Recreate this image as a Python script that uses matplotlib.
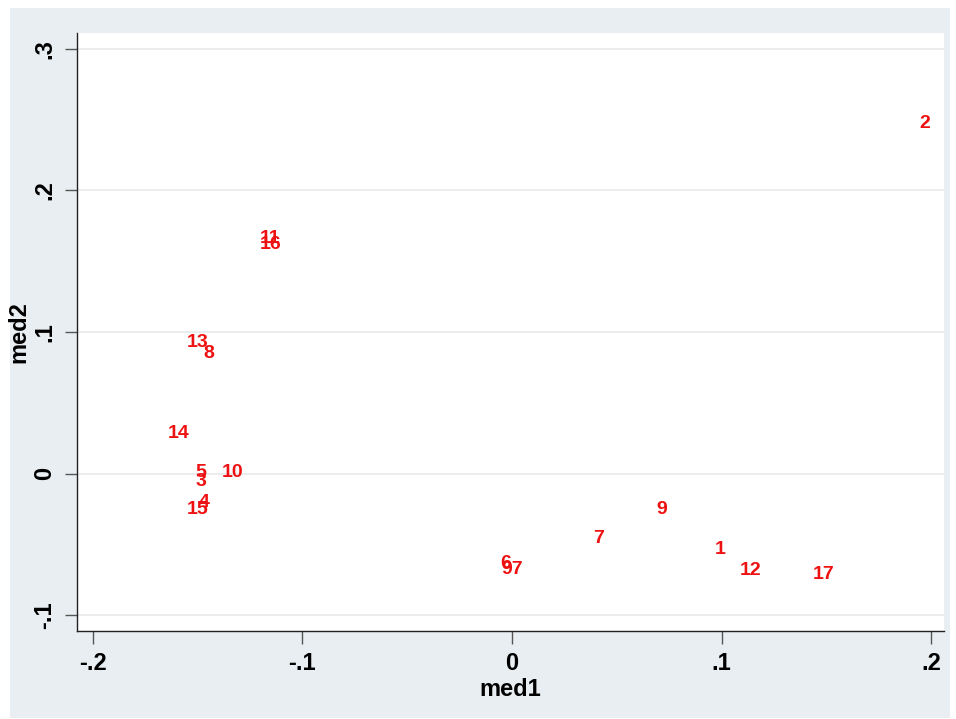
import matplotlib.pyplot as plt
from matplotlib.patches import Rectangle

labels = ["1", "2", "3", "4", "5", "6", "7", "8", "9", "10", "11", "12",
          "13", "14", "15", "16", "17", "97"]
med1 = [0.0993, 0.197, -0.1484, -0.147, -0.1484, -0.0029, 0.0415, -0.1446,
        0.0716, -0.1332, -0.1155, 0.1141, -0.1499, -0.159, -0.150, -0.115,
        0.1489, 0.0]
med2 = [-0.0534, 0.247, -0.006, -0.0208, 0.001, -0.0633, -0.0456, 0.0845,
        -0.0251, 0.0004, 0.1664, -0.0689, 0.0929, 0.0286, -0.0251, 0.1615,
        -0.0717, -0.0675]

xticks = [-0.2, -0.1, 0, 0.1, 0.2]
xticklabels = ["-.2", "-.1", "0", ".1", ".2"]
yticks = [-0.1, 0, 0.1, 0.2, 0.3]
yticklabels = ["-.1", "0", ".1", ".2", ".3"]

fam = ["Liberation Sans Narrow", "Liberation Sans", "DejaVu Sans"]

fig = plt.figure(figsize=(9.56, 7.19), dpi=100, facecolor="white")
fig.patches.append(Rectangle((10 / 956, 1 - 718 / 719), 940 / 956, 710 / 719,
                             transform=fig.transFigure, facecolor="#E8EEF1",
                             edgecolor="none", zorder=-10))

ax = fig.add_axes([0.0805, 0.1224, 0.907, 0.8317])
ax.set_facecolor("white")

for lab, x, y in zip(labels, med1, med2):
    ax.text(x, y, lab, color="#EE1111", ha="center", va="center",
            fontsize=14, fontweight="bold", family=["Liberation Sans", "DejaVu Sans"])

ax.set_xlim(-0.2076, 0.2062)
ax.set_ylim(-0.1113, 0.3113)
ax.set_xticks(xticks)
ax.set_xticklabels(xticklabels, family=fam, fontsize=17, fontweight="bold")
ax.set_yticks(yticks)
ax.set_yticklabels(yticklabels, family=fam, fontsize=17, fontweight="bold",
                   rotation=90, va="center")
ax.tick_params(direction="out", length=9, width=1, color="#555555", pad=6)

ax.grid(axis="y", color="#E6E9EB", linewidth=1.2)
ax.set_axisbelow(True)
for s in ["top", "right"]:
    ax.spines[s].set_visible(False)
for s in ["left", "bottom"]:
    ax.spines[s].set_color("#222222")
    ax.spines[s].set_linewidth(1)

ax.set_xlabel("med1", family=fam, fontsize=17, fontweight="bold", labelpad=2)
ax.set_ylabel("med2", family=fam, fontsize=17, fontweight="bold", labelpad=2)

fig.savefig("out.png", dpi=100, facecolor=fig.get_facecolor())
